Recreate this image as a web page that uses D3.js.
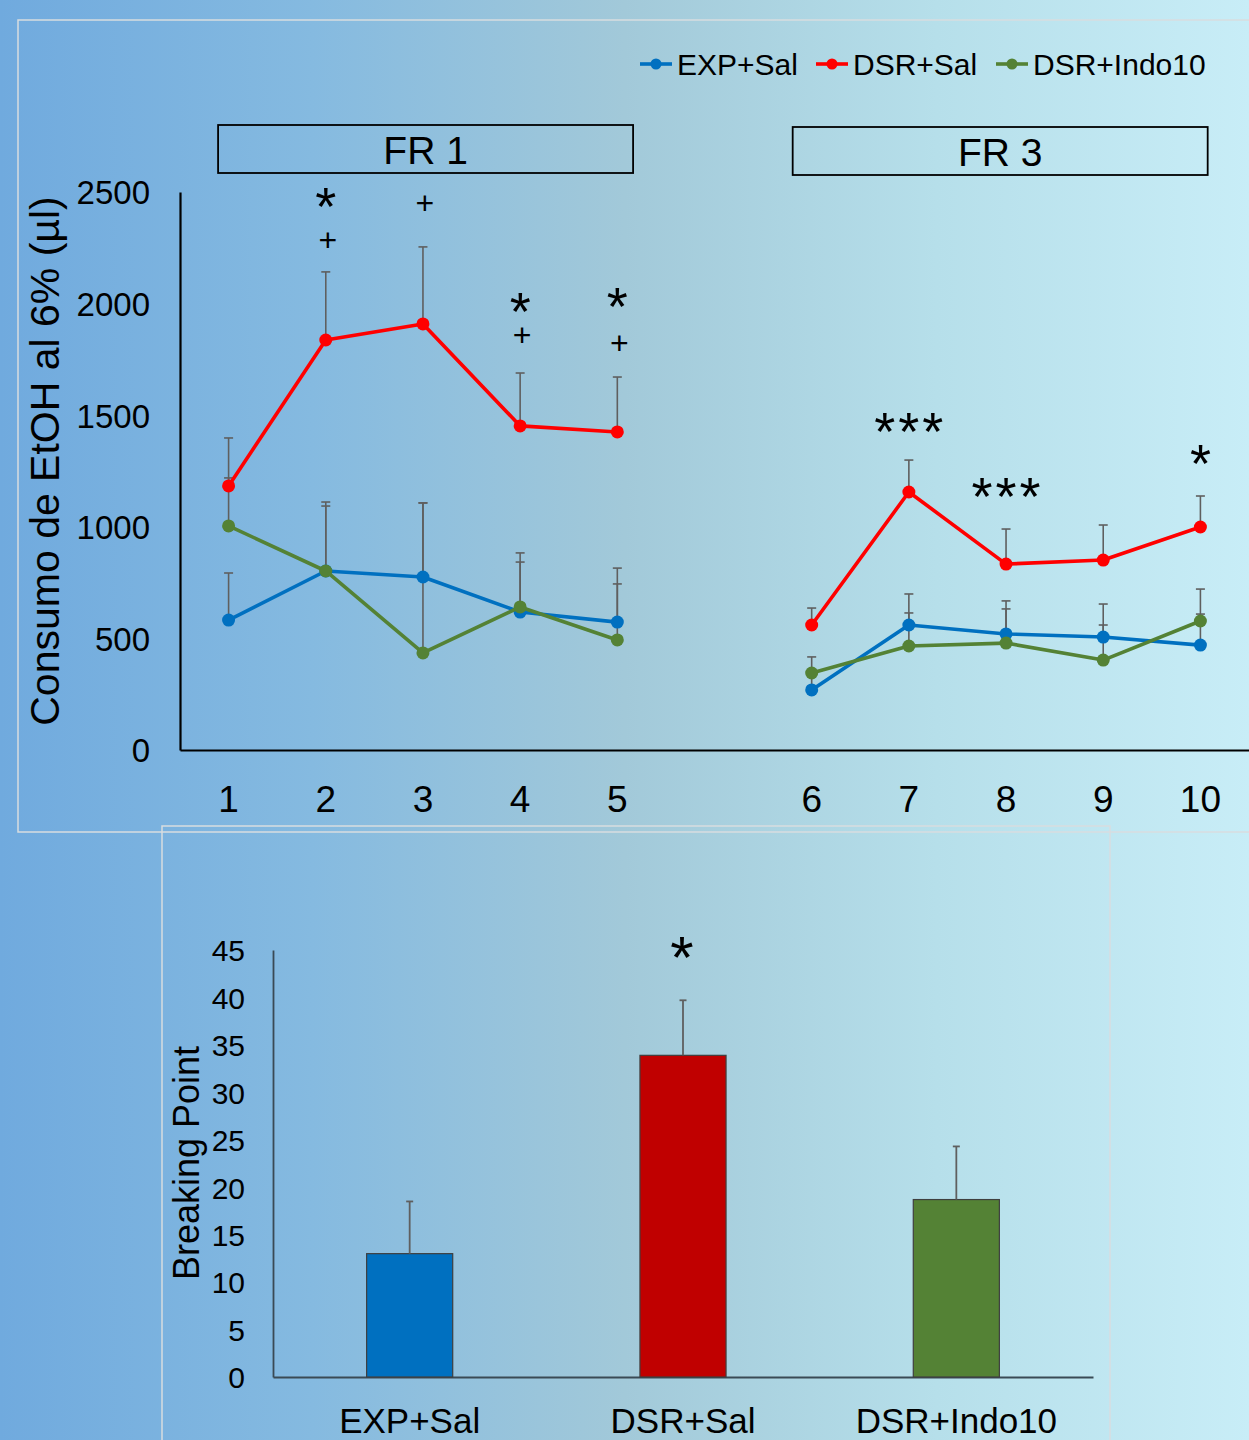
<!DOCTYPE html>
<html>
<head>
<meta charset="utf-8">
<script src="https://cdn.jsdelivr.net/npm/d3@7"></script>
<style>
  html, body { margin: 0; padding: 0; }
  body { width: 1249px; height: 1440px; overflow: hidden; }
  text { font-family: "Liberation Sans", Arial, sans-serif; fill: #000; }
</style>
</head>
<body>
<svg id="chart" width="1249" height="1440"></svg>
<script>
// ---------- DATA ----------
const days = ["1", "2", "3", "4", "5", "gap", "6", "7", "8", "9", "10"];
const dayTicks = ["1", "2", "3", "4", "5", "6", "7", "8", "9", "10"];
const yTicksTop = [0, 500, 1000, 1500, 2000, 2500];
const seriesNames = ["EXP+Sal", "DSR+Sal", "DSR+Indo10"];
const seriesColors = ["#0070c0", "#ff0000", "#548235"];

const expSal   = [582, 802, 775, 618, 573, 269, 560, 520, 506, 470];
const expSalE  = [211, 291, 332, 224, 242,  75, 139, 148, 148, 139];
const dsrSal   = [1183, 1837, 1909, 1452, 1425, 560, 1156, 833, 851, 999];
const dsrSalE  = [ 215,  305,  345,  237,  246,  76,  143, 157, 157, 139];
const dsrIndo  = [1004, 802, 435, 641, 493, 345, 466, 479, 403, 578];
const dsrIndoE = [ 215, 309, 672, 242, 251,  72, 148, 153, 157, 143];

const sigStars = [
  { day: "2", label: "*", value: 2464 },
  { day: "2", label: "+", value: 2285 },
  { day: "3", label: "+", value: 2451 },
  { day: "4", label: "*", value: 1994 },
  { day: "4", label: "+", value: 1859 },
  { day: "5", label: "*", value: 2016 },
  { day: "5", label: "+", value: 1823 },
  { day: "7", label: "***", value: 1456 },
  { day: "8", label: "***", value: 1165 },
  { day: "10", label: "*", value: 1313 }
];

const phases = [
  { label: "FR 1", from: "1", to: "5" },
  { label: "FR 3", from: "6", to: "10" }
];

const barGroups = ["EXP+Sal", "DSR+Sal", "DSR+Indo10"];
const barValues = [13.0, 33.9, 18.7];
const barErrors = [5.5, 5.8, 5.6];
const barColors = ["#0070c0", "#c00000", "#548235"];
const yTicksBottom = [0, 5, 10, 15, 20, 25, 30, 35, 40, 45];
const barSig = [{ group: "DSR+Sal", label: "*", value: 45.2 }];

// ---------- SETUP ----------
const FONT = "Liberation Sans, Arial, sans-serif";
const svg = d3.select("#chart");
const defs = svg.append("defs");
const grad = defs.append("linearGradient").attr("id", "bg")
  .attr("x1", "0%").attr("x2", "100%").attr("y1", "0%").attr("y2", "0%");
grad.append("stop").attr("offset", "0%").attr("stop-color", "#70aade");
grad.append("stop").attr("offset", "25%").attr("stop-color", "#85bae0");
grad.append("stop").attr("offset", "50%").attr("stop-color", "#a2c9d9");
grad.append("stop").attr("offset", "75%").attr("stop-color", "#b6dfea");
grad.append("stop").attr("offset", "100%").attr("stop-color", "#c8edf7");
svg.append("rect").attr("width", 1249).attr("height", 1440).attr("fill", "url(#bg)");

// panel frames
svg.append("rect").attr("x", 18).attr("y", 20).attr("width", 1260).attr("height", 812)
  .attr("fill", "none").attr("stroke", "#d8dde0").attr("stroke-width", 1.5);
svg.append("rect").attr("x", 162).attr("y", 826).attr("width", 948).attr("height", 700)
  .attr("fill", "none").attr("stroke", "#d8dde0").attr("stroke-width", 1.5);

// ---------- TOP CHART ----------
const x = d3.scaleBand().domain(days).range([180, 1249]).padding(0);
const cx = d => x(d) + x.bandwidth() / 2;
const y = d3.scaleLinear().domain([0, 2500]).range([750, 192]);

const topG = svg.append("g");

// y axis
const yAxis = d3.axisLeft(y).tickValues(yTicksTop).tickFormat(d3.format("d")).tickSize(0).tickPadding(30);
const yg = topG.append("g").attr("transform", "translate(180,0)").call(yAxis);
yg.select(".domain").attr("stroke", "#000").attr("stroke-width", 2.2);
yg.selectAll("text").attr("font-size", 33).attr("font-family", FONT)
  .attr("fill", "#000").attr("dy", "0.36em");

// x axis
const xAxis = d3.axisBottom(x).tickValues(dayTicks).tickSize(0).tickPadding(49);
const xg = topG.append("g").attr("transform", "translate(0,750)").call(xAxis);
xg.select(".domain").attr("stroke", "#000").attr("stroke-width", 2.2);
xg.selectAll("text").attr("font-size", 37).attr("font-family", FONT)
  .attr("fill", "#000").attr("dy", "0.36em");

// y title
topG.append("text")
  .attr("transform", "translate(59,461) rotate(-90)")
  .attr("text-anchor", "middle")
  .attr("font-size", 41)
  .text("Consumo de EtOH al 6% (µl)");

// phase boxes
const boxShift = [-10.5, -19];
phases.forEach((p, i) => {
  const x0 = cx(p.from) + boxShift[i];
  const w = 415;
  const yb = i === 0 ? 125 : 127;
  topG.append("rect").attr("x", x0).attr("y", yb).attr("width", w).attr("height", 48)
    .attr("fill", "none").attr("stroke", "#000").attr("stroke-width", 1.8);
  topG.append("text").attr("x", x0 + w / 2).attr("y", yb + 25).attr("dy", "0.36em")
    .attr("text-anchor", "middle").attr("font-size", 39).text(p.label);
});

// series
const series = [
  { name: seriesNames[0], color: seriesColors[0], vals: expSal, errs: expSalE },
  { name: seriesNames[1], color: seriesColors[1], vals: dsrSal, errs: dsrSalE },
  { name: seriesNames[2], color: seriesColors[2], vals: dsrIndo, errs: dsrIndoE }
];

// error bars
series.forEach(s => {
  const g = topG.append("g").attr("stroke", "#5f5f5f").attr("stroke-width", 1.6);
  s.vals.forEach((v, i) => {
    const d = dayTicks[i];
    const xx = cx(d);
    g.append("line").attr("x1", xx).attr("x2", xx).attr("y1", y(v)).attr("y2", y(v + s.errs[i]));
    g.append("line").attr("x1", xx - 4.5).attr("x2", xx + 4.5)
      .attr("y1", y(v + s.errs[i])).attr("y2", y(v + s.errs[i]));
  });
});

const line = d3.line().x(d => cx(d.day)).y(d => y(d.v));
series.forEach(s => {
  const pts = s.vals.map((v, i) => ({ day: dayTicks[i], v }));
  [pts.slice(0, 5), pts.slice(5)].forEach(seg => {
    topG.append("path").attr("d", line(seg)).attr("fill", "none")
      .attr("stroke", s.color).attr("stroke-width", 3.6).attr("stroke-linejoin", "round");
  });
  topG.selectAll(null).data(pts).enter().append("circle")
    .attr("cx", d => cx(d.day)).attr("cy", d => y(d.v)).attr("r", 6.5)
    .attr("fill", s.color);
});

// significance marks
const STAR = 54, PLUS = 32;
sigStars.forEach(m => {
  const xx = cx(m.day);
  const yy = y(m.value);
  if (m.label === "+") {
    topG.append("text").attr("x", xx + 2).attr("y", yy + 0.34 * PLUS).attr("text-anchor", "middle")
      .attr("font-size", PLUS).text("+");
  } else {
    const n = m.label.length;
    for (let k = 0; k < n; k++) {
      const off = (k - (n - 1) / 2) * 24;
      topG.append("text").attr("x", xx + off).attr("y", yy + 0.47 * STAR).attr("text-anchor", "middle")
        .attr("font-size", STAR).text("*");
    }
  }
});

// legend
const legend = topG.append("g");
const legX = [640, 816, 996];
series.forEach((s, i) => {
  const lx = legX[i];
  legend.append("line").attr("x1", lx).attr("x2", lx + 32).attr("y1", 64).attr("y2", 64)
    .attr("stroke", s.color).attr("stroke-width", 3.6);
  legend.append("circle").attr("cx", lx + 16).attr("cy", 64).attr("r", 5.5).attr("fill", s.color);
  legend.append("text").attr("x", lx + 37).attr("y", 64).attr("dy", "0.36em")
    .attr("font-size", 30).text(s.name);
});

// ---------- BOTTOM CHART ----------
const bx = d3.scaleBand().domain(barGroups).range([273, 1093]).paddingInner(0.685).paddingOuter(0.3425);
const by = d3.scaleLinear().domain([0, 45]).range([1377, 950]);
const bot = svg.append("g");

const byAxis = d3.axisLeft(by).tickValues(yTicksBottom).tickSize(0).tickPadding(28);
const byg = bot.append("g").attr("transform", "translate(273,0)").call(byAxis);
byg.select(".domain").attr("stroke", "#3a4a55").attr("stroke-width", 1.8);
byg.selectAll("text").attr("font-size", 30).attr("font-family", FONT)
  .attr("fill", "#000").attr("dy", "0.36em");

const bxAxis = d3.axisBottom(bx).tickSize(0).tickPadding(43);
const bxg = bot.append("g").attr("transform", "translate(0,1377)").call(bxAxis);
bxg.select(".domain").attr("stroke", "#3a4a55").attr("stroke-width", 1.8);
bxg.selectAll("text").attr("font-size", 35).attr("font-family", FONT)
  .attr("fill", "#000").attr("dy", "0.36em");

bot.append("text")
  .attr("transform", "translate(199,1163) rotate(-90)")
  .attr("text-anchor", "middle")
  .attr("font-size", 36)
  .text("Breaking Point");

barGroups.forEach((g, i) => {
  bot.append("rect").attr("x", bx(g)).attr("y", by(barValues[i]))
    .attr("width", bx.bandwidth()).attr("height", by(0) - by(barValues[i]))
    .attr("fill", barColors[i]).attr("stroke", "#3f3f3f").attr("stroke-width", 1.2);
  const xx = bx(g) + bx.bandwidth() / 2;
  bot.append("line").attr("x1", xx).attr("x2", xx)
    .attr("y1", by(barValues[i])).attr("y2", by(barValues[i] + barErrors[i]))
    .attr("stroke", "#5f5f5f").attr("stroke-width", 1.8);
  bot.append("line").attr("x1", xx - 3.5).attr("x2", xx + 3.5)
    .attr("y1", by(barValues[i] + barErrors[i])).attr("y2", by(barValues[i] + barErrors[i]))
    .attr("stroke", "#5f5f5f").attr("stroke-width", 1.8);
});

barSig.forEach(m => {
  const xx = bx(m.group) + bx.bandwidth() / 2;
  bot.append("text").attr("x", xx - 1).attr("y", by(m.value) + 0.5 * 60).attr("text-anchor", "middle")
    .attr("font-size", 60).text(m.label);
});
</script>
</body>
</html>
